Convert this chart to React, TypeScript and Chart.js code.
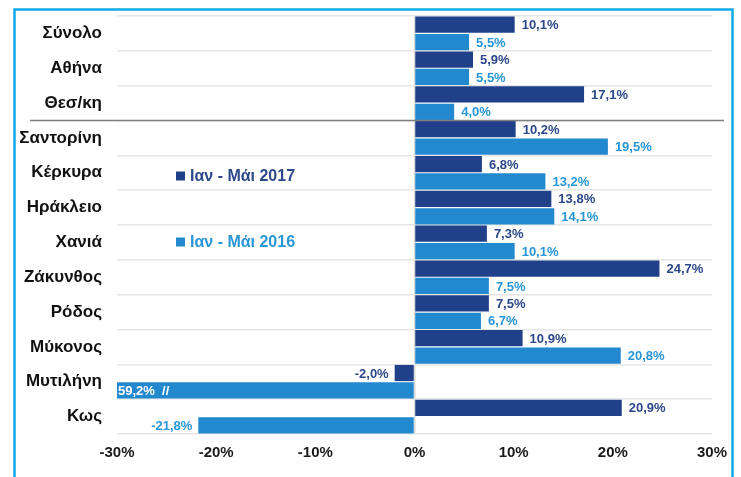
import React, { useEffect, useRef } from "react";
import { Chart, registerables } from "chart.js";

Chart.register(...registerables);

const categories = ["Σύνολο", "Αθήνα", "Θεσ/κη", "Σαντορίνη", "Κέρκυρα", "Ηράκλειο", "Χανιά", "Ζάκυνθος", "Ρόδος", "Μύκονος", "Μυτιλήνη", "Κως"];
const series2017 = [10.1, 5.9, 17.1, 10.2, 6.8, 13.8, 7.3, 24.7, 7.5, 10.9, -2.0, 20.9];
const series2016 = [5.5, 5.5, 4.0, 19.5, 13.2, 14.1, 10.1, 7.5, 6.7, 20.8, -59.2, -21.8];
const seriesNames = ["Ιαν - Μάι 2017", "Ιαν - Μάι 2016"];
const xTicks = [-30, -20, -10, 0, 10, 20, 30];

const DARK = "#21408A";
const LIGHT = "#2389CE";
const DARK_TXT = "#2C4889";
const LIGHT_TXT = "#2996D6";
const FONT = "'Liberation Sans', Arial, sans-serif";

const fmt = (v: number) => v.toFixed(1).replace(".", ",") + "%";

const decorPlugin = {
  id: "decor",
  beforeDraw(chart: any) {
    const ctx = chart.ctx;
    ctx.save();
    ctx.strokeStyle = "#12AAE6";
    ctx.lineWidth = 2.5;
    ctx.beginPath();
    ctx.moveTo(14.5, 490);
    ctx.lineTo(14.5, 9.5);
    ctx.lineTo(732.5, 9.5);
    ctx.lineTo(732.5, 490);
    ctx.stroke();
    ctx.restore();
  },
  afterDatasetsDraw(chart: any) {
    const ctx = chart.ctx;
    const xs = chart.scales.x;
    const ys = chart.scales.y;
    const area = chart.chartArea;
    ctx.save();
    // separator line
    const ySep = (ys.getPixelForValue(2) + ys.getPixelForValue(3)) / 2;
    ctx.strokeStyle = "#7F7F7F";
    ctx.lineWidth = 1.5;
    ctx.beginPath();
    ctx.moveTo(30, ySep);
    ctx.lineTo(724, ySep);
    ctx.stroke();

    // data labels
    ctx.font = `bold 13px ${FONT}`;
    ctx.textBaseline = "middle";
    chart.data.datasets.forEach((ds: any, di: number) => {
      const meta = chart.getDatasetMeta(di);
      meta.data.forEach((bar: any, i: number) => {
        const v = ds.data[i] as number;
        const color = di === 0 ? DARK_TXT : LIGHT_TXT;
        if (v < xs.min) {
          ctx.fillStyle = "#FFFFFF";
          ctx.textAlign = "left";
          ctx.fillText(fmt(-v) + "  //", area.left + 1, bar.y + 1);
          return;
        }
        ctx.fillStyle = color;
        if (v >= 0) {
          ctx.textAlign = "left";
          ctx.fillText(fmt(v), bar.x + 7, bar.y + 1);
        } else {
          ctx.textAlign = "right";
          ctx.fillText(fmt(v), bar.x - 6, bar.y + 1);
        }
      });
    });

    // legend
    ctx.font = `bold 16px ${FONT}`;
    ctx.textAlign = "left";
    const legY = [176, 242];
    [DARK, LIGHT].forEach((c, k) => {
      ctx.fillStyle = c;
      ctx.fillRect(176, legY[k] - 4.5, 9, 9);
      ctx.fillStyle = k === 0 ? DARK_TXT : LIGHT_TXT;
      ctx.fillText(seriesNames[k], 190, legY[k] + 1);
    });
    ctx.restore();
  },
};

export default function App() {
  const ref = useRef<HTMLCanvasElement | null>(null);
  useEffect(() => {
    if (!ref.current) return;
    const chart = new Chart(ref.current, {
      type: "bar",
      data: {
        labels: categories,
        datasets: [
          { label: seriesNames[0], data: series2017, backgroundColor: DARK, barPercentage: 0.93, categoryPercentage: 1 },
          { label: seriesNames[1], data: series2016, backgroundColor: LIGHT, barPercentage: 0.93, categoryPercentage: 1 },
        ],
      },
      options: {
        indexAxis: "y",
        animation: false,
        responsive: false,
        maintainAspectRatio: false,
        layout: { padding: { top: 16, right: 29, bottom: 0, left: 0 } },
        plugins: { legend: { display: false }, tooltip: { enabled: false } },
        scales: {
          x: {
            min: -30,
            max: 30,
            afterBuildTicks: (s: any) => { s.ticks = xTicks.map((v) => ({ value: v })); },
            ticks: {
              callback: (v: any) => v + "%",
              color: "#1A1A1A",
              font: { family: FONT, size: 15, weight: "bold" },
              padding: 10,
            },
            grid: {
              drawTicks: false,
              color: (c: any) => (c.tick && c.tick.value === 0 ? "#D9D9D9" : "rgba(0,0,0,0)"),
              lineWidth: 1.5,
            },
            border: { display: false },
            afterFit: (s: any) => { s.height = 43; s.paddingLeft = 0; s.paddingRight = 0; },
          },
          y: {
            ticks: {
              color: "#111111",
              font: { family: FONT, size: 17, weight: "bold" },
              padding: 15,
            },
            grid: { drawTicks: false, color: "#E6E6E6", lineWidth: 1.5 },
            border: { display: false },
            afterFit: (s: any) => { s.width = 117; s.paddingTop = 0; s.paddingBottom = 0; },
          },
        },
      },
      plugins: [decorPlugin],
    } as any);
    return () => chart.destroy();
  }, []);
  return (
    <div style={{ position: "fixed", left: 0, top: 0, width: 741, height: 477, background: "#fff" }}>
      <canvas ref={ref} width={741} height={477} style={{ display: "block" }} />
    </div>
  );
}
